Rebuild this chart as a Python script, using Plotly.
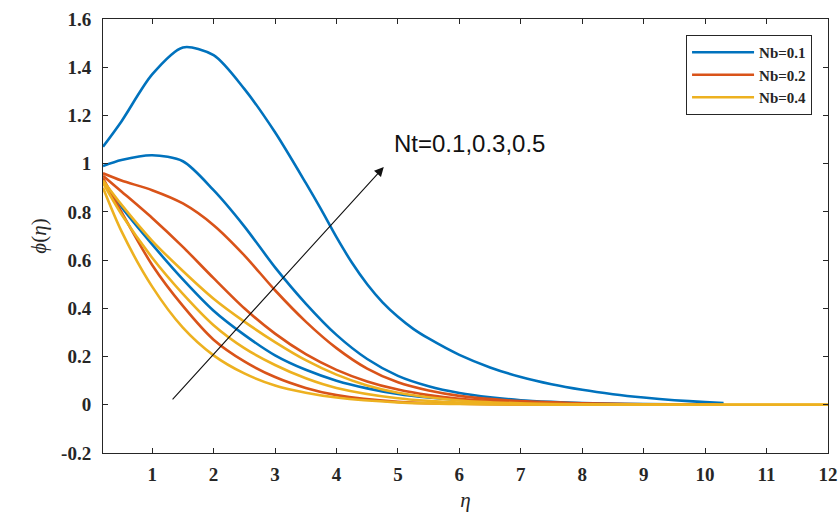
import plotly.graph_objects as go

# ---- data ----
eta_b1 = [0.2, 0.5, 1.0, 1.5, 2.0, 2.5, 3.0, 3.5, 3.75, 4.0, 4.25, 4.5, 4.75, 5.0, 5.25, 5.5, 6.0, 6.5, 7.0, 7.5, 8.0, 8.5, 9.0, 9.5, 10.0, 10.3]
phi_b1 = [1.07, 1.175, 1.37, 1.482, 1.45, 1.31, 1.13, 0.92, 0.81, 0.695, 0.59, 0.50, 0.425, 0.365, 0.315, 0.275, 0.207, 0.155, 0.115, 0.085, 0.062, 0.044, 0.03, 0.019, 0.011, 0.007]

eta_b2 = [0.2, 0.5, 1.0, 1.5, 2.0, 2.5, 3.0, 3.5, 4.0, 4.5, 5.0, 5.5, 6.0, 6.5, 7.0, 7.5, 8.0, 9.0, 10.3]
phi_b2 = [0.99, 1.015, 1.035, 1.01, 0.89, 0.74, 0.57, 0.42, 0.29, 0.19, 0.12, 0.077, 0.049, 0.031, 0.019, 0.012, 0.007, 0.003, 0.0]

eta_b3 = [0.2, 0.5, 1.0, 1.5, 2.0, 2.5, 3.0, 3.5, 4.0, 4.5, 5.0, 5.5, 6.0, 7.0, 8.0, 10.3]
phi_b3 = [0.93, 0.82, 0.665, 0.52, 0.39, 0.29, 0.205, 0.145, 0.10, 0.068, 0.045, 0.03, 0.02, 0.008, 0.003, 0.0]

eta_o1 = [0.2, 0.5, 1.0, 1.5, 2.0, 2.5, 3.0, 3.5, 4.0, 4.5, 5.0, 5.5, 6.0, 7.0, 8.0, 9.0, 10.2]
phi_o1 = [0.96, 0.93, 0.89, 0.835, 0.745, 0.62, 0.475, 0.345, 0.235, 0.15, 0.093, 0.059, 0.037, 0.015, 0.006, 0.002, 0.0]

eta_o2 = [0.2, 0.5, 1.0, 1.5, 2.0, 2.5, 3.0, 3.5, 4.0, 4.5, 5.0, 5.5, 6.0, 7.0, 8.0, 10.2]
phi_o2 = [0.95, 0.885, 0.775, 0.655, 0.525, 0.40, 0.295, 0.21, 0.145, 0.097, 0.063, 0.04, 0.025, 0.009, 0.003, 0.0]

eta_o3 = [0.2, 0.5, 1.0, 1.5, 2.0, 2.5, 3.0, 3.5, 4.0, 5.0, 6.0, 7.0, 8.5]
phi_o3 = [0.94, 0.80, 0.58, 0.41, 0.27, 0.18, 0.115, 0.07, 0.04, 0.012, 0.004, 0.001, 0.0]

eta_y1 = [0.2, 0.5, 1.0, 1.5, 2.0, 2.5, 3.0, 3.5, 4.0, 4.5, 5.0, 6.0, 7.0, 8.0, 10.0, 12.0]
phi_y1 = [0.93, 0.83, 0.68, 0.555, 0.44, 0.345, 0.26, 0.185, 0.125, 0.08, 0.05, 0.018, 0.006, 0.002, 0.0, 0.0]

eta_y2 = [0.2, 0.5, 1.0, 1.5, 2.0, 2.5, 3.0, 3.5, 4.0, 5.0, 6.0, 7.0, 8.0, 10.0, 12.0]
phi_y2 = [0.92, 0.79, 0.61, 0.46, 0.33, 0.235, 0.165, 0.11, 0.07, 0.027, 0.009, 0.003, 0.001, 0.0, 0.0]

eta_y3 = [0.2, 0.5, 1.0, 1.5, 2.0, 2.5, 3.0, 3.5, 4.0, 5.0, 6.0, 7.0, 8.0, 10.0, 12.0]
phi_y3 = [0.90, 0.72, 0.49, 0.32, 0.205, 0.13, 0.08, 0.05, 0.03, 0.01, 0.003, 0.001, 0.0, 0.0, 0.0]

x_ticks = [1, 2, 3, 4, 5, 6, 7, 8, 9, 10, 11, 12]
y_ticks = [-0.2, 0, 0.2, 0.4, 0.6, 0.8, 1, 1.2, 1.4, 1.6]
y_tick_text = ["-0.2", "0", "0.2", "0.4", "0.6", "0.8", "1", "1.2", "1.4", "1.6"]

arrow_tail = (1.31, 0.016)
arrow_head = (4.77, 0.986)
arrow_label = "Nt=0.1,0.3,0.5"

BLUE, ORANGE, YELLOW = "#0072BD", "#D95319", "#EDB120"

series = [
    ("Nb=0.1", BLUE, "g1", True, eta_b1, phi_b1),
    ("Nb=0.1", BLUE, "g1", False, eta_b2, phi_b2),
    ("Nb=0.1", BLUE, "g1", False, eta_b3, phi_b3),
    ("Nb=0.2", ORANGE, "g2", True, eta_o1, phi_o1),
    ("Nb=0.2", ORANGE, "g2", False, eta_o2, phi_o2),
    ("Nb=0.2", ORANGE, "g2", False, eta_o3, phi_o3),
    ("Nb=0.4", YELLOW, "g3", True, eta_y1, phi_y1),
    ("Nb=0.4", YELLOW, "g3", False, eta_y2, phi_y2),
    ("Nb=0.4", YELLOW, "g3", False, eta_y3, phi_y3),
]

fig = go.Figure()
for name, color, grp, show, xs, ys in series:
    fig.add_trace(go.Scatter(
        x=xs, y=ys, mode="lines", name=name, legendgroup=grp, showlegend=show,
        line=dict(color=color, width=2.6, shape="spline", smoothing=0.8),
    ))

serif = "Liberation Serif"
axis_common = dict(
    showline=True, linecolor="#262626", linewidth=1, mirror="ticks",
    ticks="inside", ticklen=5, tickcolor="#262626", showgrid=False, zeroline=False,
    automargin=False,
    tickfont=dict(family=serif, size=19, color="#262626", weight="bold"),
)

fig.update_layout(
    width=839, height=516,
    margin=dict(l=103, r=11, t=19, b=63),
    paper_bgcolor="white", plot_bgcolor="white",
    xaxis=dict(range=[0.2, 12], tickvals=x_ticks, ticklabelstandoff=4, **axis_common,
               title=dict(text="<i>η</i>", font=dict(family=serif, size=21, color="#262626"), standoff=8)),
    yaxis=dict(range=[-0.2, 1.6], tickvals=y_ticks, ticktext=y_tick_text, ticklabelstandoff=7, **axis_common,
               title=dict(text="<i>ϕ</i>(<i>η</i>)", font=dict(family=serif, size=21, color="#262626"), standoff=8)),
    legend=dict(x=0.978, y=0.963, xanchor="right", yanchor="top",
                bordercolor="#262626", borderwidth=1, bgcolor="white",
                font=dict(family=serif, size=15, color="#262626", weight="bold"),
                tracegroupgap=0, itemwidth=62),
    showlegend=True,
)

fig.add_annotation(
    x=arrow_head[0], y=arrow_head[1], ax=arrow_tail[0], ay=arrow_tail[1],
    xref="x", yref="y", axref="x", ayref="y",
    text="", showarrow=True, arrowhead=2, arrowsize=1.7, arrowwidth=1.1, arrowcolor="#111111",
)
fig.add_annotation(
    x=4.91, y=1.085, xref="x", yref="y", text=arrow_label, showarrow=False,
    xanchor="left", yanchor="middle",
    font=dict(family="Liberation Sans", size=24, color="#111111"),
)

# remove the default 8px page margin so the 839x516 figure fills the window exactly
fig.write_html(
    "out.html",
    config={"displayModeBar": False},
    post_script="document.body.style.margin='0';document.body.style.overflow='hidden';",
)
